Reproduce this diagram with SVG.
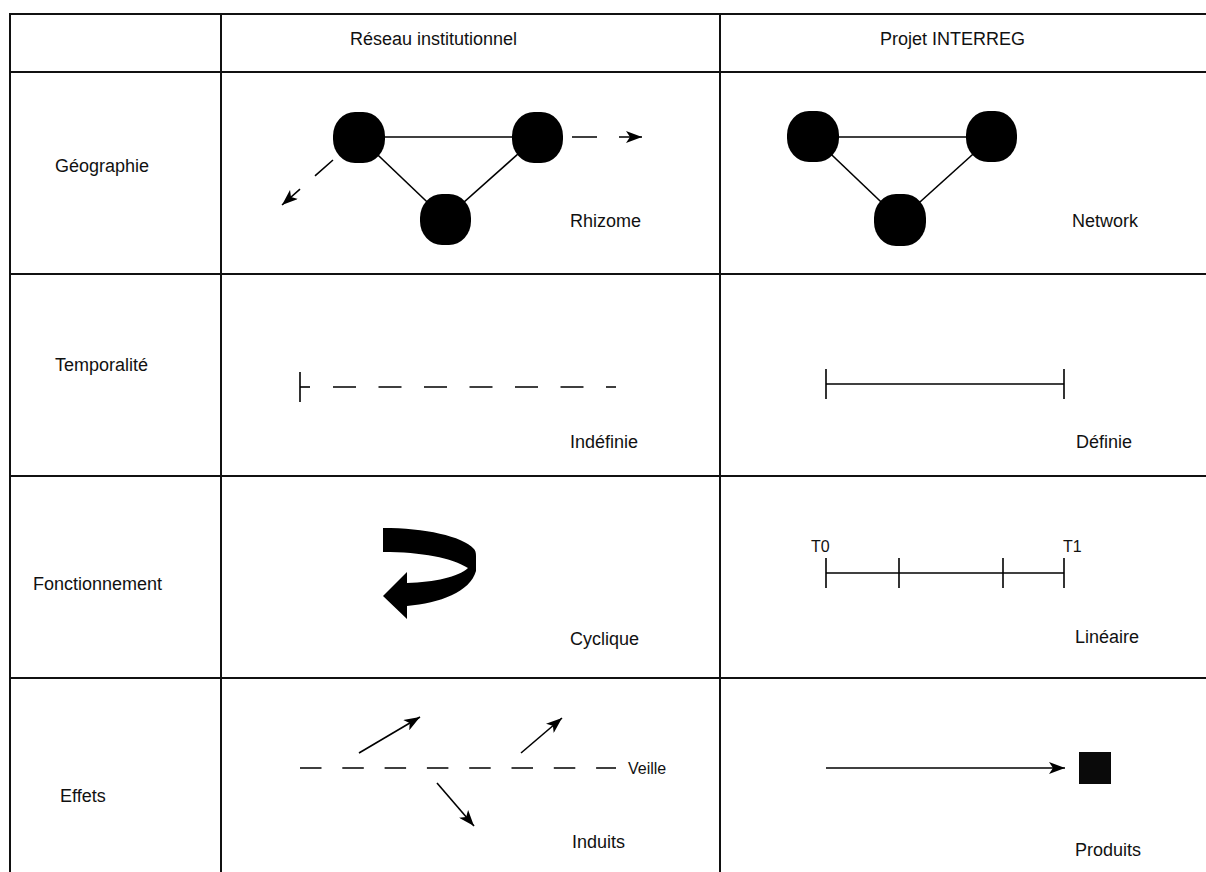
<svg xmlns="http://www.w3.org/2000/svg" width="1206" height="872" viewBox="0 0 1206 872">
<style>
text{font-family:"Liberation Sans",Arial,sans-serif;font-size:18px;fill:#111}
.sm{font-size:16px}
.grid{stroke:#111;stroke-width:2;fill:none}
.ln{stroke:#000;stroke-width:1.6;fill:none}
.node{fill:#000}
</style>
<defs>
<marker id="ah" viewBox="0 0 16 12" refX="16" refY="6" markerWidth="16" markerHeight="12" markerUnits="userSpaceOnUse" orient="auto">
<path d="M0,0 L16,6 L0,12 L4,6 Z" fill="#000"/>
</marker>
</defs>
<rect width="1206" height="872" fill="#fff"/>
<g id="grid" class="grid">
<line x1="10" y1="14" x2="1206" y2="14"/>
<line x1="10" y1="72" x2="1206" y2="72"/>
<line x1="10" y1="274" x2="1206" y2="274"/>
<line x1="10" y1="476" x2="1206" y2="476"/>
<line x1="10" y1="678" x2="1206" y2="678"/>
<line x1="10" y1="13" x2="10" y2="872"/>
<line x1="221" y1="13" x2="221" y2="872"/>
<line x1="720" y1="13" x2="720" y2="872"/>
</g>
<g id="headers">
<text x="350" y="45">Réseau institutionnel</text>
<text x="880" y="45">Projet INTERREG</text>
<text x="55" y="172">Géographie</text>
<text x="55" y="371">Temporalité</text>
<text x="33" y="590">Fonctionnement</text>
<text x="60" y="802">Effets</text>
</g>
<g id="connectors">
<line class="ln" x1="359" y1="137" x2="537" y2="137"/>
<line class="ln" x1="359" y1="137" x2="445" y2="219"/>
<line class="ln" x1="537" y1="137" x2="445" y2="219"/>
<line class="ln" x1="572" y1="137" x2="642" y2="137" stroke-dasharray="25 22" marker-end="url(#ah)"/>
<line class="ln" x1="333" y1="160" x2="282" y2="205" stroke-dasharray="24 20" marker-end="url(#ah)"/>
<line class="ln" x1="813" y1="137" x2="992" y2="137"/>
<line class="ln" x1="813" y1="137" x2="900" y2="220"/>
<line class="ln" x1="992" y1="137" x2="900" y2="220"/>
</g>
<g id="node-r1" class="node"><rect x="333" y="112" width="52" height="51" rx="22" ry="24"/></g>
<g id="node-r2" class="node"><rect x="512" y="112" width="51" height="51" rx="22" ry="24"/></g>
<g id="node-r3" class="node"><rect x="420" y="194" width="51" height="51" rx="22" ry="24"/></g>
<g id="node-n1" class="node"><rect x="787" y="111" width="52" height="51" rx="22" ry="24"/></g>
<g id="node-n2" class="node"><rect x="966" y="111" width="51" height="51" rx="22" ry="24"/></g>
<g id="node-n3" class="node"><rect x="874" y="194" width="52" height="52" rx="22" ry="24"/></g>
<g id="labels">
<text x="570" y="227">Rhizome</text>
<text x="1072" y="227">Network</text>
<text x="570" y="448">Indéfinie</text>
<text x="1076" y="448">Définie</text>
<text x="570" y="645">Cyclique</text>
<text x="1075" y="643">Linéaire</text>
<text x="572" y="848">Induits</text>
<text x="1075" y="856">Produits</text>
<text class="sm" x="628" y="774">Veille</text>
<text class="sm" x="811" y="552">T0</text>
<text class="sm" x="1063" y="552">T1</text>
</g>
<g id="temporalite">
<line class="ln" x1="300" y1="372" x2="300" y2="402"/>
<line class="ln" x1="300" y1="387" x2="310" y2="387"/>
<line class="ln" x1="333" y1="387" x2="616" y2="387" stroke-dasharray="23 22.5"/>
<line class="ln" x1="826" y1="384" x2="1064" y2="384"/>
<line class="ln" x1="826" y1="369" x2="826" y2="399"/>
<line class="ln" x1="1064" y1="369" x2="1064" y2="399"/>
</g>
<g id="fonctionnement">
<path d="M383,528 C425,528 462,536 474,549 Q476,551 476,556 L476,571 C470,592 440,603 407,606 L407,619 L383,596 L407,572 L407,583 C435,582 458,577 468,568 C452,558 422,552 383,552 Z" fill="#000"/>
<line class="ln" x1="826" y1="573" x2="1064" y2="573"/>
<line class="ln" x1="826" y1="558" x2="826" y2="588"/>
<line class="ln" x1="899" y1="558" x2="899" y2="588"/>
<line class="ln" x1="1003" y1="558" x2="1003" y2="588"/>
<line class="ln" x1="1064" y1="558" x2="1064" y2="588"/>
</g>
<g id="effets">
<line class="ln" x1="300" y1="768" x2="616" y2="768" stroke-dasharray="21.5 20.8"/>
<line class="ln" x1="359" y1="753" x2="420" y2="717" marker-end="url(#ah)"/>
<line class="ln" x1="521" y1="753" x2="562" y2="718" marker-end="url(#ah)"/>
<line class="ln" x1="437" y1="783" x2="474" y2="826" marker-end="url(#ah)"/>
<line class="ln" x1="826" y1="768" x2="1065" y2="768" marker-end="url(#ah)"/>
<rect x="1079" y="752" width="32" height="32" fill="#0a0a0a"/>
</g>
</svg>
